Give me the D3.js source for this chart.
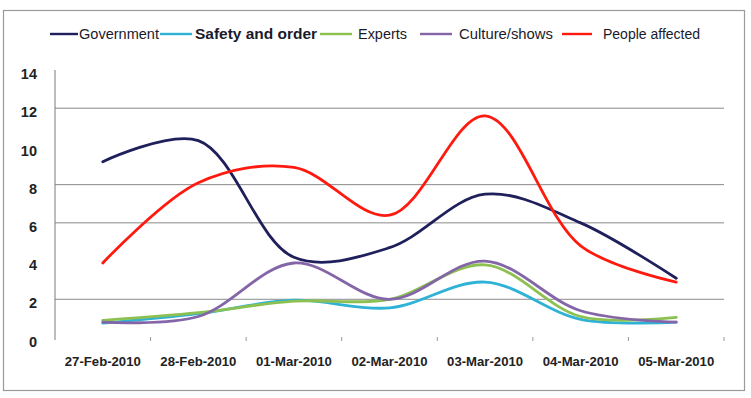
<!DOCTYPE html>
<html lang="en">
<head>
    <meta charset="UTF-8">
    <title>Topics by day</title>
    <script src="https://cdn.jsdelivr.net/npm/d3@7/dist/d3.min.js"></script>
    <style>
        body { margin: 0; background: #fff; }
        svg { display: block; font-family: "Liberation Sans", Arial, sans-serif; }
    </style>
</head>
<body>
    <svg width="751" height="398"></svg>
    <script>
        // data
        var days = ['27-Feb-2010', '28-Feb-2010', '01-Mar-2010', '02-Mar-2010', '03-Mar-2010', '04-Mar-2010', '05-Mar-2010'];
        var government = [9.2, 10.3, 4.2, 4.7, 7.5, 6.0, 3.1];
        var safety = [0.75, 1.25, 1.95, 1.55, 2.9, 0.95, 0.8];
        var experts = [0.9, 1.3, 1.9, 2.0, 3.8, 1.1, 1.05];
        var culture = [0.8, 1.1, 3.9, 2.0, 4.0, 1.4, 0.8];
        var people = [3.9, 8.1, 8.9, 6.4, 11.6, 4.8, 2.9];
        var yTicks = [0, 2, 4, 6, 8, 10, 12, 14];
        // only these gridlines show in the original
        var gridTicks = [2, 6, 8, 12];

        var series = [
            { name: 'Government', values: government, color: '#1f1f5c' },
            { name: 'Safety and order', values: safety, color: '#2fb2d6' },
            { name: 'Experts', values: experts, color: '#8cc152' },
            { name: 'Culture/shows', values: culture, color: '#8466a8' },
            { name: 'People affected', values: people, color: '#ff1a0f' }
        ];

        var svg = d3.select('svg');

        // outer frame
        svg.append('rect')
            .attr('x', 3.5).attr('y', 10.5)
            .attr('width', 741).attr('height', 380)
            .attr('fill', 'none').attr('stroke', '#9a9a9a').attr('stroke-width', 1.2);

        var x = d3.scaleBand().domain(days).range([55, 724]);
        var y = d3.scaleLinear().domain([0, 14]).range([337.5, 70]);

        // gridlines
        svg.append('g').selectAll('line')
            .data(gridTicks)
            .enter().append('line')
            .attr('x1', 55).attr('x2', 724)
            .attr('y1', function (d) { return y(d); })
            .attr('y2', function (d) { return y(d); })
            .attr('stroke', '#8a8a8a').attr('stroke-width', 1);

        // y axis
        var yAxis = svg.append('g')
            .attr('transform', 'translate(55,0)')
            .call(d3.axisLeft(y).tickValues(yTicks).tickSize(0).tickPadding(18));
        yAxis.select('.domain').attr('stroke', '#7a7a7a').attr('d', 'M0,70V340');
        yAxis.selectAll('text')
            .attr('dy', '0.6em')
            .style('font-size', '14.5px').style('font-weight', 'bold').attr('fill', '#222');

        // x axis: small ticks between categories, no baseline
        var xAxis = svg.append('g')
            .attr('transform', 'translate(0,337)')
            .call(d3.axisBottom(x).tickSize(0).tickPadding(20));
        xAxis.select('.domain').remove();
        xAxis.selectAll('text')
            .attr('textLength', 76).attr('lengthAdjust', 'spacingAndGlyphs')
            .style('font-size', '12.5px').style('font-weight', 'bold').attr('fill', '#222');
        xAxis.append('g').selectAll('line')
            .data(days)
            .enter().append('line')
            .attr('x1', function (d) { return x(d) + x.bandwidth(); })
            .attr('x2', function (d) { return x(d) + x.bandwidth(); })
            .attr('y1', 0).attr('y2', 4)
            .attr('stroke', '#999');

        // lines
        var line = d3.line()
            .x(function (d, i) { return x(days[i]) + x.bandwidth() / 2; })
            .y(function (d) { return y(d); })
            .curve(d3.curveCatmullRom.alpha(0.5));

        svg.append('g').selectAll('path')
            .data(series)
            .enter().append('path')
            .attr('d', function (d) { return line(d.values); })
            .attr('fill', 'none')
            .attr('stroke', function (d) { return d.color; })
            .attr('stroke-width', 2.8)
            .attr('stroke-linecap', 'round');

        // legend
        var lineX = [50, 160, 320, 420, 562];
        var lineW = [28, 32, 32, 32, 30];
        var textX = [79, 195, 358, 459, 603];
        var textW = [80, 122, 49, 94, 97];
        var legend = svg.append('g').selectAll('g')
            .data(series)
            .enter().append('g');
        legend.append('line')
            .attr('x1', function (d, i) { return lineX[i]; })
            .attr('x2', function (d, i) { return lineX[i] + lineW[i]; })
            .attr('y1', 34).attr('y2', 34)
            .attr('stroke', function (d) { return d.color; })
            .attr('stroke-width', 2.4);
        legend.append('text')
            .attr('x', function (d, i) { return textX[i]; })
            .attr('y', 34)
            .attr('dy', '0.35em')
            .attr('textLength', function (d, i) { return textW[i]; })
            .attr('lengthAdjust', 'spacingAndGlyphs')
            .style('font-size', '14px')
            .style('font-weight', function (d, i) { return i === 1 ? 'bold' : 'normal'; })
            .attr('fill', '#1a1a2a')
            .text(function (d) { return d.name; });
    </script>
</body>
</html>
